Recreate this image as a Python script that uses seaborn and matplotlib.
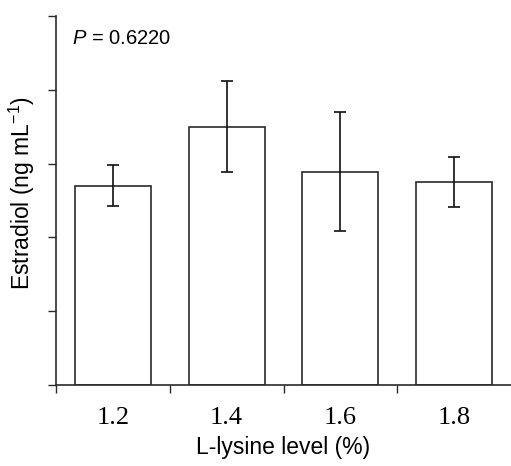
import matplotlib
matplotlib.use("Agg")
import matplotlib.pyplot as plt
import seaborn as sns
import pandas as pd
import numpy as np

levels = ["1.2", "1.4", "1.6", "1.8"]
estradiol = [2.70, 3.50, 2.89, 2.75]
sem = [0.28, 0.62, 0.81, 0.34]
y_ticks = [0, 1, 2, 3, 4, 5]
p_text = "P = 0.6220"

sns.set_style("ticks")
plt.rcParams['font.family'] = ['Liberation Sans', 'DejaVu Sans']
plt.rcParams['mathtext.fontset'] = 'custom'
plt.rcParams['mathtext.rm'] = 'Liberation Sans'
plt.rcParams['mathtext.it'] = 'Liberation Sans:italic'
plt.rcParams['text.color'] = 'black'
plt.rcParams['axes.labelcolor'] = 'black'
plt.rcParams['xtick.color'] = 'black'
plt.rcParams['ytick.color'] = 'black'

df = pd.DataFrame({"level": levels, "estradiol": estradiol})

fig = plt.figure(figsize=(5.11, 4.66), dpi=100)
ax = fig.add_axes([56/511, 1 - 385/466, 1 - 56/511, (385 - 16)/466])

sns.barplot(data=df, x="level", y="estradiol", ax=ax, color="white",
            edgecolor="#2a2a2a", linewidth=1.2, width=0.67, errorbar=None)

centers = [p.get_x() + p.get_width()/2 for p in ax.patches]
ax.errorbar(centers, estradiol, yerr=sem, fmt="none", ecolor="#111111",
            elinewidth=1.2, capsize=4.5, capthick=1.2)

ax.set_ylim(0, 5)
ax.set_xlim(-0.5, 3.5)
ax.set_yticks(y_ticks)
ax.set_yticklabels([])
ax.tick_params(axis="y", length=6, width=1.0, color="#2a2a2a", direction="out")

ax.set_xticks(range(len(levels)))
ax.set_xticklabels(levels, family="Liberation Serif", fontsize=19)
ax.tick_params(axis="x", which="major", length=0, pad=16)
ax.set_xticks(np.arange(-0.5, len(levels) - 0.5, 1.0), minor=True)
ax.tick_params(axis="x", which="minor", length=6, width=1.0, color="#2a2a2a", direction="out")

for s in ["top", "right"]:
    ax.spines[s].set_visible(False)
for s in ["left", "bottom"]:
    ax.spines[s].set_color("#2a2a2a")
    ax.spines[s].set_linewidth(1.2)

ax.set_xlabel("L-lysine level (%)", fontsize=16.5, labelpad=5)
ax.set_ylabel("Estradiol (ng mL$^{-1}$)", fontsize=16.5)
ax.yaxis.set_label_coords(-0.042, 0.52)

ax.text(0.035, 0.94, r"$P$ = 0.6220", transform=ax.transAxes, fontsize=14.5,
        ha="left", va="center")

fig.savefig("out.png", dpi=100)
